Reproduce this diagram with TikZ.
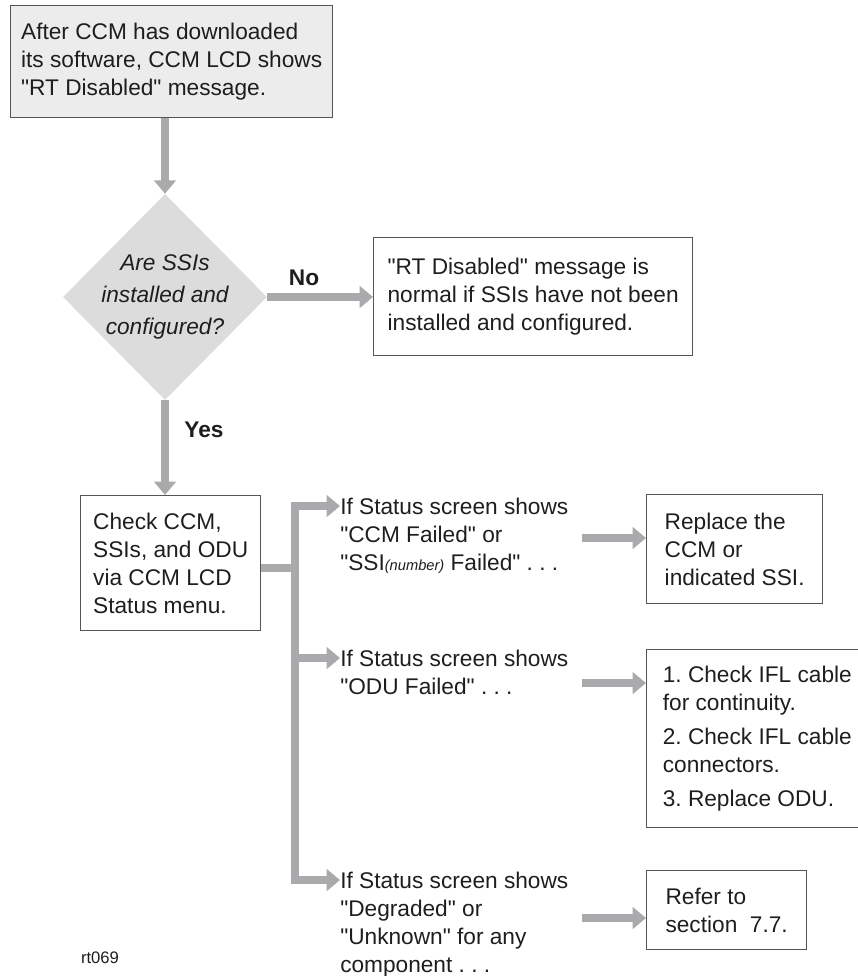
\documentclass[tikz,border=0pt]{standalone}
\usepackage{fontspec}
\setmainfont{Liberation Sans}[Ligatures=TeXOff]
\usetikzlibrary{arrows.meta,shapes.geometric}
\definecolor{flowgray}{RGB}{170, 170, 172}
\definecolor{boxgray}{RGB}{236, 236, 236}
\definecolor{decgray}{RGB}{220, 220, 220}
\definecolor{edgegray}{RGB}{85, 85, 85}
\definecolor{inkblack}{RGB}{30, 30, 30}
\frenchspacing

\begin{document}
\begin{tikzpicture}[x=0.75pt, y=-0.75pt,
  txt/.style={font=\fontsize{17}{21}\selectfont, text=inkblack},
  stepbox/.style={txt, draw=edgegray, line width=1pt, align=left, anchor=north west, inner sep=0pt},
  decision/.style={diamond, fill=decgray, inner sep=0pt, minimum width=153pt, minimum height=154.5pt},
  cond/.style={txt, align=left, anchor=north west, inner sep=0pt},
  answer/.style={font=\fontsize{17}{21}\selectfont\bfseries, text=inkblack},
  flow/.style={draw=flowgray, line width=6pt, -{Triangle[length=10pt,width=16pt]}},
  bar/.style={draw=flowgray, line width=6pt}]
  \useasboundingbox (0,0) rectangle (858,976);
  \clip (0,0) rectangle (858,976);

  % Start box and decision
  \node[stepbox, fill=boxgray, minimum width=241.5pt, minimum height=84pt] (start) at (10,5)
    {After CCM has downloaded\\its software, CCM LCD shows\\"RT Disabled" message.};
  \node[decision] (ssi) at (165,297) {};
  \node[txt, align=center, font=\fontsize{17}{24}\selectfont\itshape] (ssitext) at (ssi)
    {Are SSIs\\installed and\\configured?};
  \node[stepbox, minimum width=239.25pt, minimum height=88.5pt] (normal) at (373,237)
    {"RT Disabled" message is\\normal if SSIs have not been\\installed and configured.};
  \node[answer] (nolbl) at (304,278) {No};
  \node[answer] (yeslbl) at (204,430) {Yes};

  % Status check
  \node[stepbox, minimum width=135pt, minimum height=101.25pt] (check) at (80,495)
    {Check CCM,\\SSIs, and ODU\\via CCM LCD\\Status menu.};
  \coordinate (junction) at (295,568);

  % Status screen cases
  \node[cond] (cond1) at (340,497.5)
    {If Status screen shows\\"CCM Failed" or\\"SSI{\fontsize{11}{11}\selectfont\itshape (number)} Failed" . . .};
  \node[cond] (cond2) at (340,649.5)
    {If Status screen shows\\"ODU Failed" . . .};
  \node[cond] (cond3) at (340,871.5)
    {If Status screen shows\\"Degraded" or\\"Unknown" for any\\component . . .};

  % Actions
  \node[stepbox, minimum width=132pt, minimum height=81.75pt] (replace) at (646,494)
    {Replace the\\CCM or\\indicated SSI.};
  \node[stepbox, minimum width=166pt, minimum height=133.5pt] (cable) at (646,649)
    {1. Check IFL cable\\for continuity.\\[4.5pt]2. Check IFL cable\\connectors.\\[4.5pt]3. Replace ODU.};
  \node[stepbox, minimum width=120pt, minimum height=59.25pt] (refer) at (646,870)
    {Refer to\\section~~7.7.};
  \coordinate (o1) at (582,538);
  \coordinate (o2) at (582,683);
  \coordinate (o3) at (582,918);

  \node[font=\fontsize{12.5}{13}\selectfont, text=inkblack] (figid) at (100,958) {rt069};

  % Connectors
  \draw[flow] (ssi.north |- start.south) -- (ssi.north);
  \draw[flow] (ssi.east) -- (ssi.east -| normal.west);
  \draw[flow] (ssi.south) -- (ssi.south |- check.north);
  \draw[bar] (check.east |- junction) -- (junction);
  \draw[flow] (junction) |- ([yshift=-6.4pt]cond1.north west);
  \draw[flow] (junction) |- ([yshift=-6.4pt]cond2.north west);
  \draw[flow] (junction) |- ([yshift=-6.4pt]cond3.north west);
  \draw[flow] (o1) -- (o1 -| replace.west);
  \draw[flow] (o2) -- (o2 -| cable.west);
  \draw[flow] (o3) -- (o3 -| refer.west);
\end{tikzpicture}
\end{document}
